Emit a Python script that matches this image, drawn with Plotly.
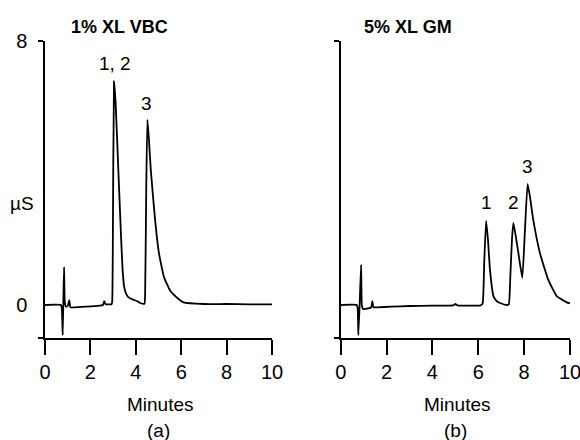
import plotly.graph_objects as go

W, H = 580, 440

# Panel (a): 1% XL VBC
time_a = [0, 0.70, 0.74, 0.78, 0.81, 0.84, 0.87, 0.92, 1.0, 1.07, 1.12, 1.3, 1.8, 2.4, 2.55, 2.61, 2.67,
          2.8, 2.93, 2.96, 2.99, 3.04, 3.11, 3.23, 3.35, 3.42, 3.49, 3.58, 3.67, 3.85, 4.04, 4.2, 4.38,
          4.41, 4.46, 4.51, 4.58, 4.66, 4.85, 5.02, 5.24, 5.51, 5.87, 6.1, 7, 8, 9, 10]
signal_a = [0, 0, -0.1, -0.91, 0.2, 1.15, 0.1, -0.05, -0.03, 0.15, -0.07, -0.07, -0.05, -0.02, 0.0, 0.12, 0.02,
            0.02, 0.02, 0.1, 2.0, 6.78, 6.14, 4.1, 2.07, 1.05, 0.54, 0.33, 0.24, 0.17, 0.12, 0.06, 0.04,
            0.3, 3.5, 5.62, 5.0, 4.1, 2.58, 1.57, 0.85, 0.44, 0.19, 0.08, 0.03, 0.03, 0.02, 0.02]

# Panel (b): 5% XL GM
time_b = [0, 0.70, 0.74, 0.77, 0.83, 0.89, 0.92, 0.97, 1.2, 1.33, 1.38, 1.43, 1.6, 2.2, 3, 4, 4.9, 5.0, 5.1,
          6.1, 6.19, 6.26, 6.34, 6.42, 6.51, 6.66, 6.8, 6.95, 7.24, 7.33, 7.4, 7.47, 7.53, 7.62, 7.75, 7.92,
          8.03, 8.15, 8.25, 8.4, 8.69, 9.05, 9.42, 9.86, 10]
signal_b = [0, 0, -0.1, -0.91, 0.1, 1.22, 0.0, -0.12, -0.1, -0.07, 0.12, -0.07, -0.07, -0.05, -0.03, -0.02, -0.01, 0.03, -0.01,
            -0.01, 0.05, 1.3, 2.55, 2.0, 1.07, 0.27, 0.12, 0.06, 0.0, 0.02, 0.9, 2.0, 2.49, 2.15, 1.57, 0.82,
            2.2, 3.67, 3.3, 2.57, 1.57, 0.77, 0.27, 0.08, 0.05]

x_ticks = [0, 2, 4, 6, 8, 10]
titles = ["1% XL VBC", "5% XL GM"]
panel_labels = ["(a)", "(b)"]
peak_labels_a = [("1, 2", 3.08, 7.32), ("3", 4.48, 6.11)]
peak_labels_b = [("1", 6.34, 3.1), ("2", 7.53, 3.1), ("3", 8.16, 4.19)]

FONT = "Liberation Sans, Arial, sans-serif"

def px(x):
    return x / W

def py(y):
    return 1 - y / H

fig = go.Figure()
fig.add_trace(go.Scatter(x=time_a, y=signal_a, mode="lines",
                         line=dict(color="black", width=1.8, shape="spline", smoothing=0.4),
                         xaxis="x", yaxis="y", showlegend=False, hoverinfo="skip"))
fig.add_trace(go.Scatter(x=time_b, y=signal_b, mode="lines",
                         line=dict(color="black", width=1.8, shape="spline", smoothing=0.4),
                         xaxis="x2", yaxis="y2", showlegend=False, hoverinfo="skip"))

xdom_a = [px(45), px(272)]
xdom_b = [px(340.7), px(570)]
ydom = [py(338), py(41)]

xcommon = dict(range=[0, 10], tickvals=x_ticks, ticks="outside", ticklen=15, tickwidth=1.5,
               tickcolor="black", showline=True, linecolor="black", linewidth=1.5, automargin=False,
               ticklabeloverflow="allow",
               showgrid=False, zeroline=False, tickfont=dict(family=FONT, size=20, color="black"))
ycommon = dict(range=[-1, 8], showline=True, linecolor="black", linewidth=1.5, showgrid=False,
               zeroline=False, ticks="", automargin=False,
               minor=dict(tickvals=[-1, 8], ticks="outside", ticklen=5, tickwidth=1.5, tickcolor="black"),
               tickfont=dict(family=FONT, size=20, color="black"))

fig.update_layout(
    width=W, height=H, margin=dict(l=0, r=0, t=0, b=0, autoexpand=False),
    paper_bgcolor="white", plot_bgcolor="white",
    xaxis=dict(domain=xdom_a, anchor="y", **xcommon),
    yaxis=dict(domain=ydom, anchor="x", tickvals=[0, 8], ticktext=["0", "8"], ticklabelstandoff=12, **ycommon),
    xaxis2=dict(domain=xdom_b, anchor="y2", **xcommon),
    yaxis2=dict(domain=ydom, anchor="x2", showticklabels=False, **ycommon),
    font=dict(family=FONT, color="black"),
)

def note(text, x, y, size=19, xref="paper", yref="paper"):
    return dict(text=text, x=x, y=y, xref=xref, yref=yref, showarrow=False,
                xanchor="center", yanchor="middle", font=dict(size=size))

ann = []
ann.append(note("<b>" + titles[0] + "</b>", px(119.5), py(27), size=18))
ann.append(note("<b>" + titles[1] + "</b>", px(408), py(27), size=18))
for cx, lab in [(160, panel_labels[0]), (457, panel_labels[1])]:
    ann.append(note("Minutes", px(cx), py(404)))
    ann.append(note(lab, px(cx - 2), py(430)))
ann.append(note("µS", px(21.5), py(203)))
for t, x, y in peak_labels_a:
    ann.append(note(t, x, y, xref="x", yref="y"))
for t, x, y in peak_labels_b:
    ann.append(note(t, x, y, xref="x2", yref="y2"))
fig.update_layout(annotations=ann)

fig.write_html("out.html", config={"displayModeBar": False},
               post_script="document.body.style.margin='0';document.body.style.overflow='hidden';")
